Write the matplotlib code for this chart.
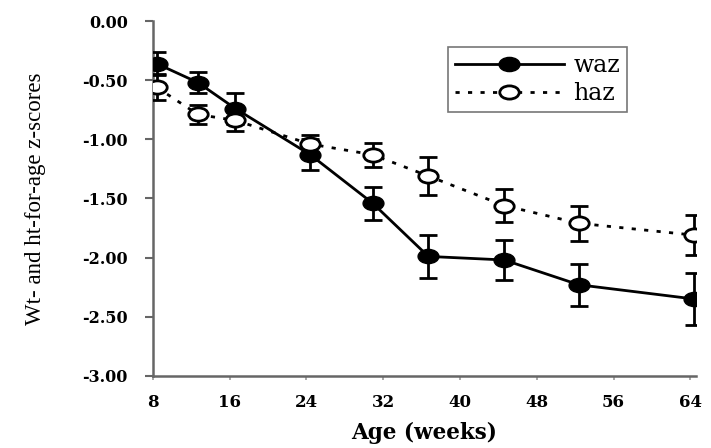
import matplotlib.pyplot as plt
from matplotlib.path import Path
from matplotlib.transforms import Affine2D

# ages in weeks (read from point positions)
age = [8.4, 12.7, 16.6, 24.4, 30.9, 36.7, 44.6, 52.4, 64.4]

waz = [-0.36, -0.52, -0.74, -1.13, -1.54, -1.99, -2.02, -2.23, -2.35]
waz_err = [0.10, 0.09, 0.13, 0.13, 0.14, 0.18, 0.17, 0.18, 0.22]

haz = [-0.56, -0.79, -0.84, -1.04, -1.13, -1.31, -1.56, -1.71, -1.81]
haz_err = [0.11, 0.08, 0.09, 0.08, 0.10, 0.16, 0.14, 0.15, 0.17]

xticks = [8, 16, 24, 32, 40, 48, 56, 64]
yticks = [0, -0.5, -1.0, -1.5, -2.0, -2.5, -3.0]

plt.rcParams['font.family'] = 'Liberation Serif'

# the scanned figure is stretched sideways, so markers are ellipses
ellipse = Path.unit_circle().transformed(Affine2D().scale(1.0, 0.68))

fig = plt.figure(figsize=(7.11, 4.48), dpi=100)
ax = fig.add_axes([0.215, 0.161, 0.764, 0.792])

eb1 = ax.errorbar(age, waz, yerr=waz_err, color='black', lw=2, marker=ellipse, ms=15,
                  mfc='black', mec='black', capsize=6.5, elinewidth=2, capthick=2,
                  zorder=3)
eb2 = ax.errorbar(age, haz, yerr=haz_err, color='black', lw=2, ls=(0, (1.5, 3)),
                  marker=ellipse, ms=14, mfc='white', mec='black', mew=2, capsize=6.5,
                  elinewidth=2, capthick=2, zorder=4)

ax.set_xlim(8, 64.6)
ax.set_ylim(-3.0, 0.0)
ax.set_xticks(xticks)
ax.set_xticklabels([str(t) for t in xticks], fontsize=12, fontweight='bold',
                   family='DejaVu Serif')
ax.set_yticks(yticks)
ax.set_yticklabels(['%.2f' % t for t in yticks], fontsize=11.5, fontweight='bold',
                   family='DejaVu Serif')

for s in ['top', 'right']:
    ax.spines[s].set_visible(False)
for s in ['left', 'bottom']:
    ax.spines[s].set_color('#666666')
    ax.spines[s].set_linewidth(1.8)
ax.tick_params(axis='y', length=6, width=1.5, color='#666666', pad=12)
ax.tick_params(axis='x', length=3, width=1.2, color='#999999', pad=10)

ax.set_xlabel('Age (weeks)', fontsize=15.5, fontweight='bold', family='DejaVu Serif',
              labelpad=8)
ax.set_ylabel('Wt- and ht-for-age z-scores', fontsize=16.5, labelpad=26)

leg = ax.legend([eb1[0], eb2[0]], ['waz', 'haz'], loc='upper left',
                bbox_to_anchor=(448 / 711, 1 - 47 / 448),
                bbox_transform=fig.transFigure, prop={'family': 'DejaVu Serif', 'size': 17},
                frameon=True, fancybox=False, edgecolor='#555555', handlelength=4.6,
                handletextpad=0.4, borderpad=0.3, labelspacing=0.2, borderaxespad=0)
leg.get_frame().set_linewidth(1.2)

fig.savefig('out.png', dpi=100)
